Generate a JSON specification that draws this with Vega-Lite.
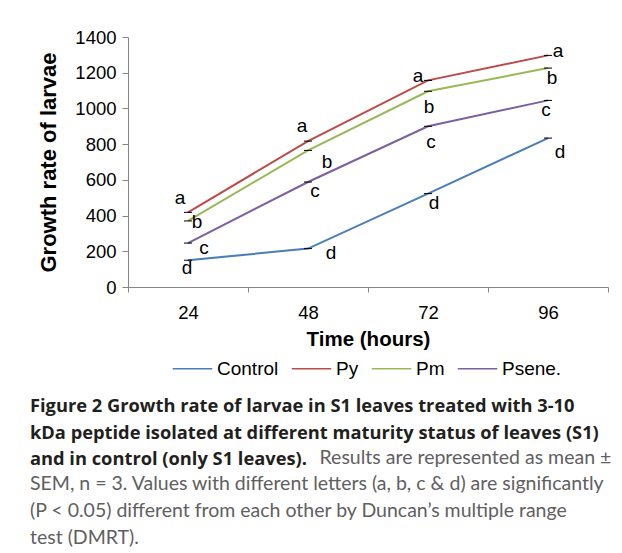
{
  "$schema": "https://vega.github.io/schema/vega-lite/v6.json",
  "width": 480,
  "height": 250,
  "padding": {"left": 30, "top": 28, "right": 5, "bottom": 0},
  "background": "white",
  "data": {
    "values": [
      {"time": 24, "series": "Control", "value": 150, "letter": "d"},
      {"time": 48, "series": "Control", "value": 215, "letter": "d"},
      {"time": 72, "series": "Control", "value": 523, "letter": "d"},
      {"time": 96, "series": "Control", "value": 834, "letter": "d"},
      {"time": 24, "series": "Py", "value": 418, "letter": "a"},
      {"time": 48, "series": "Py", "value": 817, "letter": "a"},
      {"time": 72, "series": "Py", "value": 1157, "letter": "a"},
      {"time": 96, "series": "Py", "value": 1297, "letter": "a"},
      {"time": 24, "series": "Pm", "value": 370, "letter": "b"},
      {"time": 48, "series": "Pm", "value": 765, "letter": "b"},
      {"time": 72, "series": "Pm", "value": 1096, "letter": "b"},
      {"time": 96, "series": "Pm", "value": 1226, "letter": "b"},
      {"time": 24, "series": "Psene.", "value": 246, "letter": "c"},
      {"time": 48, "series": "Psene.", "value": 588, "letter": "c"},
      {"time": 72, "series": "Psene.", "value": 900, "letter": "c"},
      {"time": 96, "series": "Psene.", "value": 1045, "letter": "c"}
    ]
  },
  "title": {
    "text": [
      "Figure 2 Growth rate of larvae in S1 leaves treated with 3-10",
      "kDa peptide isolated at different maturity status of leaves (S1)",
      "and in control (only S1 leaves)."
    ],
    "subtitle": [
      "\u200b\u00a0\u00a0\u00a0\u00a0\u00a0\u00a0\u00a0\u00a0\u00a0\u00a0\u00a0\u00a0\u00a0\u00a0\u00a0\u00a0\u00a0\u00a0\u00a0\u00a0\u00a0\u00a0\u00a0\u00a0\u00a0\u00a0\u00a0\u00a0\u00a0\u00a0\u00a0\u00a0\u00a0\u00a0\u00a0\u00a0\u00a0\u00a0\u00a0\u00a0\u00a0\u00a0\u00a0\u00a0\u00a0\u00a0\u00a0\u00a0\u00a0\u00a0\u00a0\u00a0\u00a0\u00a0\u00a0\u00a0\u00a0\u00a0Results are represented as mean \u00b1",
      "SEM, n = 3. Values with different letters (a, b, c & d) are significantly",
      "(P < 0.05) different from each other by Duncan\u2019s multiple range",
      "test (DMRT)."
    ],
    "orient": "bottom",
    "anchor": "start",
    "frame": "group",
    "dx": -98,
    "offset": 19,
    "font": "Open Sans",
    "fontSize": 18.3,
    "fontWeight": "bold",
    "color": "#231F20",
    "lineHeight": 26.7,
    "subtitleFont": "Lato",
    "subtitleFontSize": 19.5,
    "subtitleFontWeight": "normal",
    "subtitleColor": "#5F6062",
    "subtitleLineHeight": 26.7,
    "subtitlePadding": -21
  },
  "encoding": {
    "x": {
      "field": "time",
      "type": "ordinal",
      "bandPosition": 0.5,
      "scale": {"type": "band", "paddingInner": 0, "paddingOuter": 0},
      "axis": {
        "title": "Time (hours)",
        "labelAngle": 0,
        "tickBand": "extent",
        "domainColor": "#868686",
        "tickColor": "#868686",
        "tickSize": 5,
        "labelPadding": 11,
        "labelFont": "Liberation Sans",
        "labelFontSize": 18.5,
        "labelColor": "black",
        "titleFont": "Liberation Sans",
        "titleFontSize": 20.5,
        "titleFontWeight": "bold",
        "titleColor": "black",
        "titlePadding": 8
      }
    },
    "y": {
      "field": "value",
      "type": "quantitative",
      "scale": {"domain": [0, 1400], "nice": false},
      "axis": {
        "values": [0, 200, 400, 600, 800, 1000, 1200, 1400],
        "format": "d",
        "grid": false,
        "title": "Growth rate of larvae",
        "domainColor": "#868686",
        "tickColor": "#868686",
        "tickSize": 6,
        "labelPadding": 6,
        "labelFont": "Liberation Sans",
        "labelFontSize": 18.5,
        "labelColor": "black",
        "titleFont": "Liberation Sans",
        "titleFontSize": 22,
        "titleFontWeight": "bold",
        "titleColor": "black",
        "titlePadding": 14
      }
    }
  },
  "layer": [
    {
      "mark": {"type": "line", "strokeWidth": 2},
      "encoding": {
        "color": {
          "field": "series",
          "type": "nominal",
          "scale": {"domain": ["Control", "Py", "Pm", "Psene."], "range": ["#4A7EBB", "#BE4B48", "#98B954", "#7D60A0"]},
          "legend": {
            "orient": "none",
            "legendX": 44,
            "legendY": 311,
            "direction": "horizontal",
            "title": null,
            "symbolType": "stroke",
            "symbolSize": 1560,
            "symbolStrokeWidth": 1.5,
            "labelFont": "Liberation Sans",
            "labelFontSize": 19,
            "labelColor": "black",
            "labelOffset": 4,
            "columnPadding": 9
          }
        }
      }
    },
    {"mark": {"type": "tick", "color": "black", "size": 8, "thickness": 1, "opacity": 1}},
    {"transform": [{"filter": "datum.series=='Py' && datum.time==24"}], "mark": {"type": "text", "dx": -8, "dy": -14}, "encoding": {"text": {"field": "letter"}}},
    {"transform": [{"filter": "datum.series=='Py' && datum.time==48"}], "mark": {"type": "text", "dx": -6, "dy": -15}, "encoding": {"text": {"field": "letter"}}},
    {"transform": [{"filter": "datum.series=='Py' && datum.time==72"}], "mark": {"type": "text", "dx": -10, "dy": -4}, "encoding": {"text": {"field": "letter"}}},
    {"transform": [{"filter": "datum.series=='Py' && datum.time==96"}], "mark": {"type": "text", "dx": 10, "dy": -4}, "encoding": {"text": {"field": "letter"}}},
    {"transform": [{"filter": "datum.series=='Pm' && datum.time==24"}], "mark": {"type": "text", "dx": 9, "dy": 1}, "encoding": {"text": {"field": "letter"}}},
    {"transform": [{"filter": "datum.series=='Pm' && datum.time==48"}], "mark": {"type": "text", "dx": 19, "dy": 12}, "encoding": {"text": {"field": "letter"}}},
    {"transform": [{"filter": "datum.series=='Pm' && datum.time==72"}], "mark": {"type": "text", "dx": 1, "dy": 16}, "encoding": {"text": {"field": "letter"}}},
    {"transform": [{"filter": "datum.series=='Pm' && datum.time==96"}], "mark": {"type": "text", "dx": 4, "dy": 10}, "encoding": {"text": {"field": "letter"}}},
    {"transform": [{"filter": "datum.series=='Psene.' && datum.time==24"}], "mark": {"type": "text", "dx": 16, "dy": 5}, "encoding": {"text": {"field": "letter"}}},
    {"transform": [{"filter": "datum.series=='Psene.' && datum.time==48"}], "mark": {"type": "text", "dx": 7, "dy": 9}, "encoding": {"text": {"field": "letter"}}},
    {"transform": [{"filter": "datum.series=='Psene.' && datum.time==72"}], "mark": {"type": "text", "dx": 3, "dy": 16}, "encoding": {"text": {"field": "letter"}}},
    {"transform": [{"filter": "datum.series=='Psene.' && datum.time==96"}], "mark": {"type": "text", "dx": -2, "dy": 10}, "encoding": {"text": {"field": "letter"}}},
    {"transform": [{"filter": "datum.series=='Control' && datum.time==24"}], "mark": {"type": "text", "dx": -1, "dy": 8}, "encoding": {"text": {"field": "letter"}}},
    {"transform": [{"filter": "datum.series=='Control' && datum.time==48"}], "mark": {"type": "text", "dx": 23, "dy": 4}, "encoding": {"text": {"field": "letter"}}},
    {"transform": [{"filter": "datum.series=='Control' && datum.time==72"}], "mark": {"type": "text", "dx": 6, "dy": 9}, "encoding": {"text": {"field": "letter"}}},
    {"transform": [{"filter": "datum.series=='Control' && datum.time==96"}], "mark": {"type": "text", "dx": 12, "dy": 14}, "encoding": {"text": {"field": "letter"}}}
  ],
  "config": {
    "view": {"stroke": null},
    "text": {"font": "Liberation Sans", "fontSize": 19, "color": "black", "baseline": "middle", "align": "center"}
  }
}
